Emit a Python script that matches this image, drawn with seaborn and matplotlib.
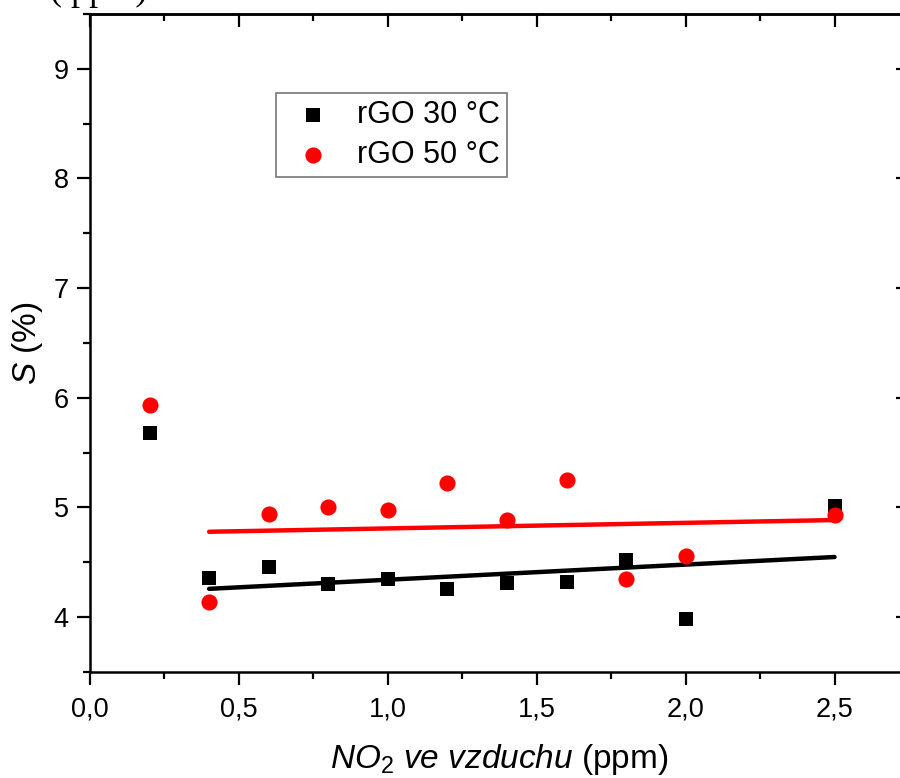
import numpy as np
import matplotlib
matplotlib.use('Agg')
import matplotlib.pyplot as plt
import seaborn as sns
from matplotlib.ticker import MultipleLocator, FuncFormatter

# data
conc = [0.2, 0.4, 0.6, 0.8, 1.0, 1.2, 1.4, 1.6, 1.8, 2.0, 2.5]
s_30 = [5.68, 4.36, 4.46, 4.30, 4.35, 4.26, 4.31, 4.32, 4.52, 3.98, 5.01]
s_50 = [5.93, 4.14, 4.94, 5.00, 4.98, 5.22, 4.89, 5.25, 4.35, 4.56, 4.93]
labels = ['rGO 30 °C', 'rGO 50 °C']

sns.set_style('ticks', rc={'axes.edgecolor': 'black', 'text.color': 'black',
                           'axes.labelcolor': 'black', 'xtick.color': 'black',
                           'ytick.color': 'black'})
plt.rcParams['font.family'] = ['Liberation Sans', 'DejaVu Sans']
plt.rcParams['mathtext.fontset'] = 'custom'
plt.rcParams['mathtext.rm'] = 'Liberation Sans'
plt.rcParams['mathtext.it'] = 'Liberation Sans:italic'

fig = plt.figure(figsize=(9, 7.78), dpi=100)
ax = fig.add_axes([0.1, 0.1362, 0.91, 0.846])

sns.scatterplot(x=conc, y=s_30, marker='s', s=105, color='black', linewidth=0, label=labels[0], ax=ax, zorder=3)
sns.scatterplot(x=conc, y=s_50, marker='o', s=135, color='red', linewidth=0, label=labels[1], ax=ax, zorder=3)

# linear fits skip the first point (0.2 ppm)
sns.regplot(x=conc[1:], y=s_30[1:], scatter=False, ci=None, color='black', line_kws=dict(lw=3.2), ax=ax)
sns.regplot(x=conc[1:], y=s_50[1:], scatter=False, ci=None, color='red', line_kws=dict(lw=3.2), ax=ax)

ax.set_xlim(0, 2.75)
ax.set_ylim(3.5, 9.5)
ax.xaxis.set_major_locator(MultipleLocator(0.5))
ax.xaxis.set_minor_locator(MultipleLocator(0.25))
ax.yaxis.set_major_locator(MultipleLocator(1))
ax.yaxis.set_minor_locator(MultipleLocator(0.5))
ax.xaxis.set_major_formatter(FuncFormatter(lambda v, p: f'{v:.1f}'.replace('.', ',')))
ax.yaxis.set_major_formatter(FuncFormatter(lambda v, p: f'{v:.0f}'))
ax.tick_params(which='major', direction='out', length=9.5, width=1.6, labelsize=19.5, pad=6, colors='black')
ax.tick_params(axis='x', which='major', pad=8)
ax.tick_params(which='minor', direction='out', length=5, width=1.6, colors='black')
for sp in ax.spines.values():
    sp.set_linewidth(1.8)
    sp.set_color('black')

# mirrored axes with inward ticks
top = ax.secondary_xaxis('top')
top.xaxis.set_major_locator(MultipleLocator(0.5))
top.xaxis.set_minor_locator(MultipleLocator(0.25))
top.tick_params(which='major', direction='in', length=9.5, width=1.6, labeltop=False, colors='black')
top.tick_params(which='minor', direction='in', length=5, width=1.6, colors='black')
top.spines['top'].set_linewidth(1.8)
top.spines['top'].set_color('black')
right = ax.secondary_yaxis('right')
right.yaxis.set_major_locator(MultipleLocator(1))
right.yaxis.set_minor_locator(MultipleLocator(0.5))
right.tick_params(which='major', direction='in', length=9.5, width=1.6, labelright=False, colors='black')
right.tick_params(which='minor', direction='in', length=5, width=1.6, colors='black')
right.spines['right'].set_linewidth(1.8)
right.spines['right'].set_color('black')

ax.set_xlabel(r'$NO_2\ ve\ vzduchu$ (ppm)', fontsize=24, labelpad=14)
ax.set_ylabel(r'$S$ (%)', fontsize=24, labelpad=6)

leg = ax.legend(loc='upper left', bbox_to_anchor=(0.227, 0.88), borderaxespad=0,
                fontsize=22, frameon=True, fancybox=False, handlelength=1.9,
                handletextpad=0.5, borderpad=0.25, labelspacing=0.3)
leg.get_frame().set_edgecolor('#555555')
leg.get_frame().set_linewidth(1.2)

# cut-off text at the very top of the page
fig.text(50 / 900, 1.0, '( ppm)', family='Liberation Serif', fontsize=26, va='baseline')

fig.savefig('out.png', dpi=100)
